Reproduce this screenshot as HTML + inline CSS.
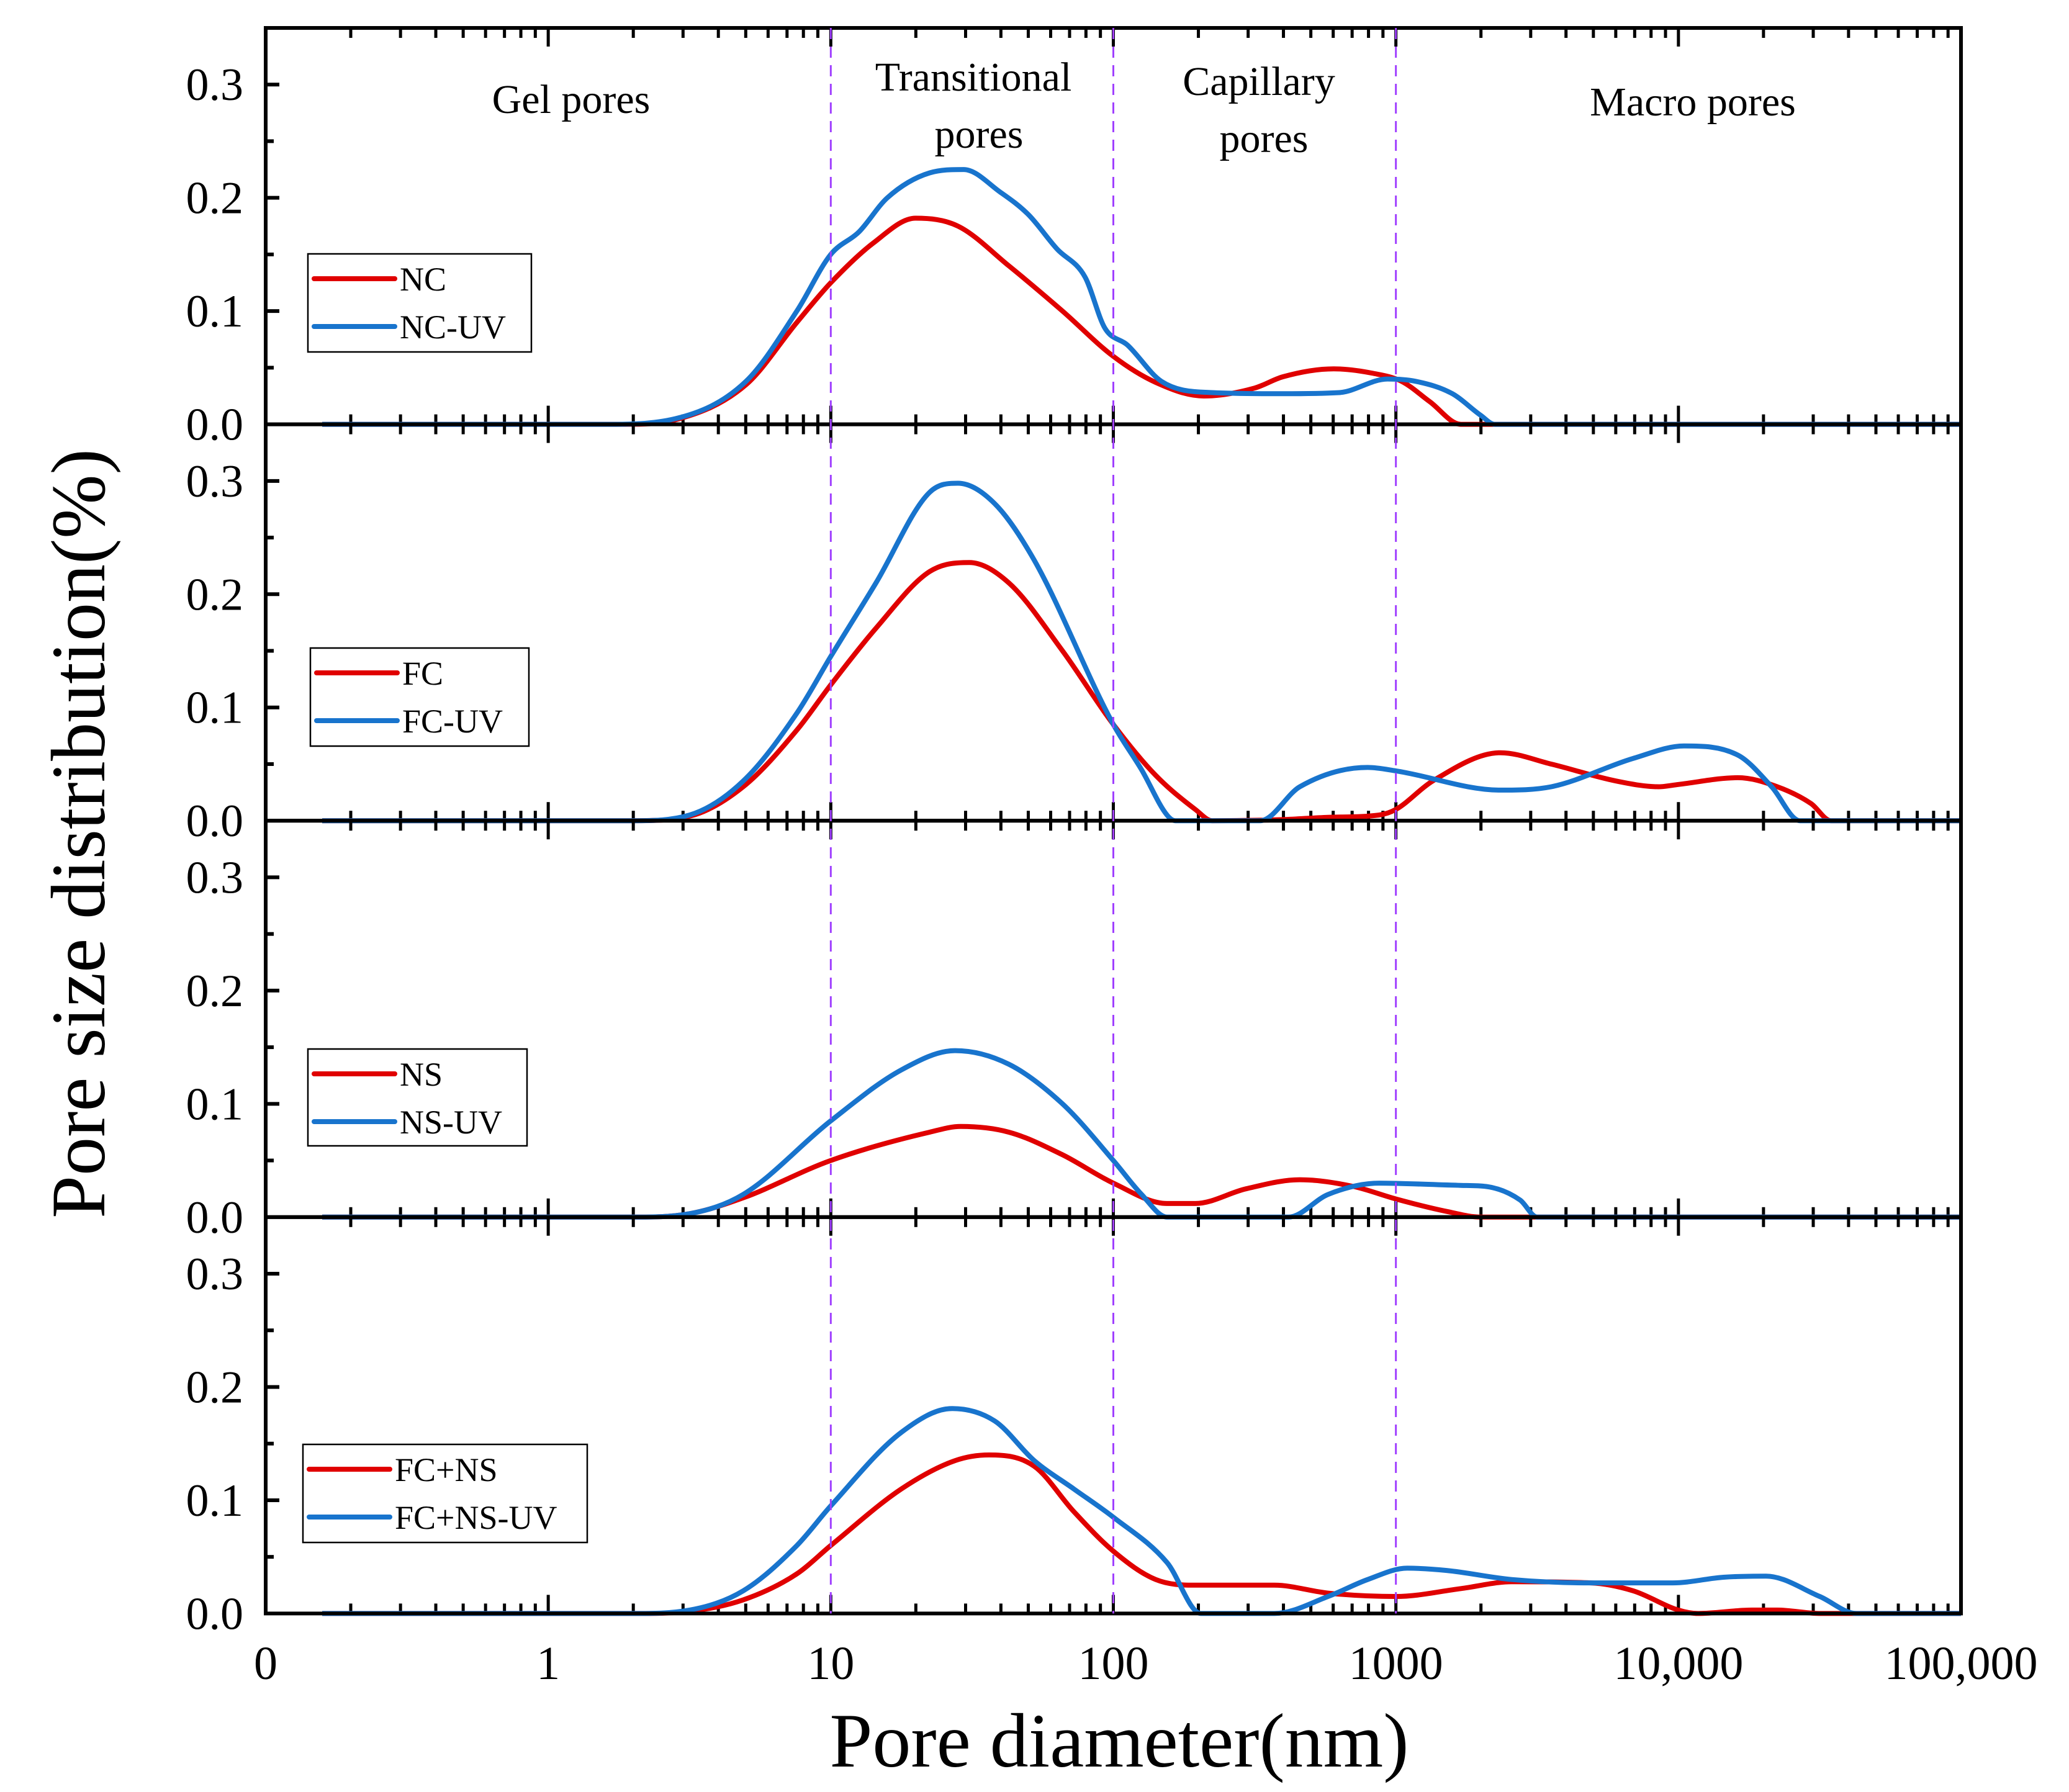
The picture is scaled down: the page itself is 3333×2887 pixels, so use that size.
<!DOCTYPE html>
<html><head><meta charset="utf-8"><style>
html,body{margin:0;padding:0;background:#fff;}
svg{display:block;}
text{font-family:"Liberation Serif","DejaVu Serif",serif;fill:#000;}
</style></head><body>
<svg id="chart" xmlns="http://www.w3.org/2000/svg" width="3333" height="2887" viewBox="0 0 3333 2887">
</svg>
<script>
const xTickLabels = ["0","1","10","100","1000","10,000","100,000"];
const yTickLabels = ["0.0","0.1","0.2","0.3"];
const yTickValues = [0,0.1,0.2,0.3];
const regionLines = [1,2,3];
const seriesNames = [["NC","NC-UV"],["FC","FC-UV"],["NS","NS-UV"],["FC+NS","FC+NS-UV"]];
// [log10(diameter nm), distribution]
const ncRed = [[-0.8,0],[0.27,0],[0.45,0.004],[0.7,0.035],[0.88,0.09],[1,0.125],[1.15,0.16],[1.3,0.182],[1.45,0.175],[1.63,0.14],[1.82,0.1],[2,0.06],[2.15,0.037],[2.32,0.025],[2.5,0.032],[2.6,0.042],[2.78,0.049],[2.92,0.045],[3.02,0.038],[3.12,0.02],[3.23,0],[5,0]];
const ncBlue = [[-0.8,0],[0.2,0],[0.45,0.005],[0.7,0.038],[0.88,0.1],[1,0.15],[1.1,0.17],[1.2,0.2],[1.35,0.222],[1.47,0.225],[1.6,0.205],[1.7,0.185],[1.8,0.155],[1.9,0.13],[1.97,0.085],[2.05,0.07],[2.17,0.038],[2.35,0.028],[2.6,0.027],[2.8,0.028],[2.97,0.04],[3.07,0.038],[3.2,0.027],[3.3,0.008],[3.35,0],[5,0]];
const fcRed = [[-0.8,0],[0.3,0],[0.5,0.004],[0.69,0.03],[0.88,0.08],[1,0.12],[1.16,0.17],[1.35,0.22],[1.49,0.228],[1.63,0.21],[1.82,0.15],[2,0.085],[2.15,0.04],[2.29,0.01],[2.35,0],[2.6,0.001],[2.76,0.003],[2.94,0.005],[3,0.01],[3.13,0.035],[3.37,0.06],[3.55,0.05],[3.78,0.035],[3.93,0.03],[4,0.032],[4.21,0.038],[4.35,0.03],[4.47,0.015],[4.54,0],[5,0]];
const fcBlue = [[-0.8,0],[0.3,0],[0.5,0.005],[0.69,0.035],[0.88,0.095],[1,0.145],[1.16,0.21],[1.35,0.29],[1.45,0.298],[1.58,0.28],[1.72,0.23],[2,0.085],[2.1,0.045],[2.19,0.005],[2.22,0],[2.52,0],[2.66,0.03],[2.9,0.047],[3,0.044],[3.37,0.027],[3.55,0.03],[3.84,0.055],[4.02,0.066],[4.21,0.058],[4.33,0.03],[4.43,0],[5,0]];
const nsRed = [[-0.8,0],[0.3,0],[0.5,0.003],[0.69,0.017],[1,0.05],[1.35,0.075],[1.46,0.08],[1.63,0.075],[1.82,0.055],[2,0.03],[2.19,0.012],[2.29,0.012],[2.47,0.025],[2.66,0.033],[2.85,0.027],[3,0.016],[3.18,0.005],[3.3,0],[5,0]];
const nsBlue = [[-0.8,0],[0.3,0],[0.5,0.003],[0.69,0.02],[1,0.085],[1.25,0.13],[1.44,0.147],[1.63,0.135],[1.82,0.1],[2,0.05],[2.1,0.02],[2.19,0],[2.62,0],[2.76,0.02],[2.94,0.03],[3.23,0.028],[3.32,0.027],[3.44,0.015],[3.5,0],[5,0]];
const fnRed = [[-0.8,0],[0.3,0],[0.5,0.002],[0.69,0.012],[0.88,0.035],[1,0.06],[1.25,0.11],[1.44,0.135],[1.56,0.14],[1.72,0.13],[1.86,0.09],[2,0.055],[2.15,0.03],[2.29,0.025],[2.57,0.025],[2.76,0.018],[3,0.015],[3.23,0.022],[3.41,0.028],[3.69,0.027],[3.84,0.02],[4,0.003],[4.07,0],[4.26,0.003],[4.35,0.003],[4.5,0],[5,0]];
const fnBlue = [[-0.8,0],[0.3,0],[0.5,0.003],[0.69,0.02],[0.88,0.06],[1,0.095],[1.25,0.16],[1.43,0.181],[1.58,0.17],[1.72,0.135],[1.86,0.11],[2,0.085],[2.19,0.045],[2.31,0],[2.57,0],[2.76,0.015],[2.9,0.03],[3.04,0.04],[3.18,0.038],[3.41,0.03],[3.69,0.027],[3.98,0.027],[4.16,0.032],[4.31,0.033],[4.5,0.015],[4.63,0],[5,0]];
const panelSeries = [[ncRed,ncBlue],[fcRed,fcBlue],[nsRed,nsBlue],[fnRed,fnBlue]];

const NS='http://www.w3.org/2000/svg';
const svg=document.getElementById('chart');
const L=428,R=3159,T=45,PH=638.6,YMAX=0.35;
const X=lg=>L+(lg+1)/6*(R-L);
const Y=(p,v)=>T+(p+1)*PH-v/YMAX*PH;
function mk(tag,attrs,parent){const e=document.createElementNS(NS,tag);for(const k in attrs)e.setAttribute(k,attrs[k]);(parent||svg).appendChild(e);return e;}
const legendBoxes=[[496,409,360,158],[500,1044,352,158],[496,1690,353,156],[488,2327,458,158]];
const colors=['#e00000','#1874cd'];
function pathFor(p,data){
  const n=data.length,xs=data.map(d=>d[0]),ys=data.map(d=>d[1]);
  const dl=[],m=new Array(n).fill(0);
  for(let i=0;i<n-1;i++)dl.push((ys[i+1]-ys[i])/(xs[i+1]-xs[i]));
  m[0]=dl[0];m[n-1]=dl[n-2];
  for(let i=1;i<n-1;i++){m[i]=(dl[i-1]*dl[i]<=0)?0:(dl[i-1]+dl[i])/2;}
  for(let i=0;i<n-1;i++){
    if(dl[i]===0){m[i]=0;m[i+1]=0;continue;}
    const a=m[i]/dl[i],b=m[i+1]/dl[i],s=a*a+b*b;
    if(s>9){const t=3/Math.sqrt(s);m[i]=t*a*dl[i];m[i+1]=t*b*dl[i];}
  }
  let s='M'+X(xs[0]).toFixed(1)+','+Y(p,ys[0]).toFixed(1);
  for(let i=0;i<n-1;i++){
    const h=xs[i+1]-xs[i];
    const c1x=xs[i]+h/3,c1y=ys[i]+m[i]*h/3,c2x=xs[i+1]-h/3,c2y=ys[i+1]-m[i+1]*h/3;
    s+=' C'+X(c1x).toFixed(1)+','+Y(p,c1y).toFixed(1)+' '+X(c2x).toFixed(1)+','+Y(p,c2y).toFixed(1)+' '+X(xs[i+1]).toFixed(1)+','+Y(p,ys[i+1]).toFixed(1);
  }
  return s;
}
for(let p=0;p<4;p++){
  const g=mk('g',{});
  
  
  const top=T+p*PH,bot=T+(p+1)*PH;
  for(let d=-1;d<5;d++){
    for(let m=1;m<=9;m++){
      const x=X(d+Math.log10(m));const len=m===1?30:16;
      if(d===-1&&m===1)continue;
      const t1=mk('line',{x1:x,x2:x,y1:bot,y2:bot-len,stroke:'#000','stroke-width':5},g);
      
      
      const t2=mk('line',{x1:x,x2:x,y1:top,y2:top+len,stroke:'#000','stroke-width':5},g);
      
      
    }
  }
  for(let k=1;k<=6;k++){
    const v=k*0.05;const y=Y(p,v);const len=(k%2===0)?22:13;
    const t=mk('line',{x1:L,x2:L+len,y1:y,y2:y,stroke:'#000','stroke-width':6},g);
    
    
  }
  yTickValues.forEach((v,i)=>{
    const tx=mk('text',{x:392,y:Y(p,v)+25,'font-size':74,'text-anchor':'end'},g);
    tx.textContent=yTickLabels[i];
    
    
  });
  panelSeries[p].forEach((data,si)=>{
    const pa=mk('path',{d:pathFor(p,data),fill:'none',stroke:colors[si],'stroke-width':8,'stroke-linejoin':'round'},g);
    
    
  });
  const fr=mk('rect',{x:L,y:top,width:R-L,height:PH,fill:'none',stroke:'#000','stroke-width':6},g);
  
  
  const b=legendBoxes[p];
  const lg=mk('g',{},g);
  
  
  mk('rect',{x:b[0],y:b[1],width:b[2],height:b[3],fill:'#fff',stroke:'#000','stroke-width':2.5},lg);
  seriesNames[p].forEach((n,si)=>{
    const yy=b[1]+40+si*77;
    const ln=mk('line',{x1:b[0]+10,x2:b[0]+140,y1:yy,y2:yy,stroke:colors[si],'stroke-width':8,'stroke-linecap':'round'},lg);
    
    
    const tx=mk('text',{x:b[0]+148,y:yy+19,'font-size':54},lg);
    tx.textContent=n;
    
    
  });
}
regionLines.forEach(lg=>{
  const l=mk('line',{x1:X(lg),x2:X(lg),y1:T,y2:T+4*PH,stroke:'#a040ff','stroke-width':3,'stroke-dasharray':'18,12'});
  
  
});
xTickLabels.forEach((t,i)=>{
  const tx=mk('text',{x:X(i-1),y:2705,'font-size':76,'text-anchor':'middle'});
  tx.textContent=t;
  
  
});
const regions=[["Gel pores",920,182],["Transitional",1568,146],["pores",1577,238],["Capillary",2028,153],["pores",2036,245],["Macro pores",2727,186]];
regions.forEach(r=>{
  const tx=mk('text',{x:r[1],y:r[2],'font-size':66,'text-anchor':'middle'});
  tx.textContent=r[0];
  
  
});
const xt=mk('text',{x:1803,y:2846,'font-size':124,'text-anchor':'middle'});
xt.textContent='Pore diameter(nm)';


const yt=mk('text',{x:0,y:0,'font-size':124,'text-anchor':'middle',transform:'translate(168,1343) rotate(-90)'});
yt.textContent='Pore size distribution(%)';


</script>
</body></html>
